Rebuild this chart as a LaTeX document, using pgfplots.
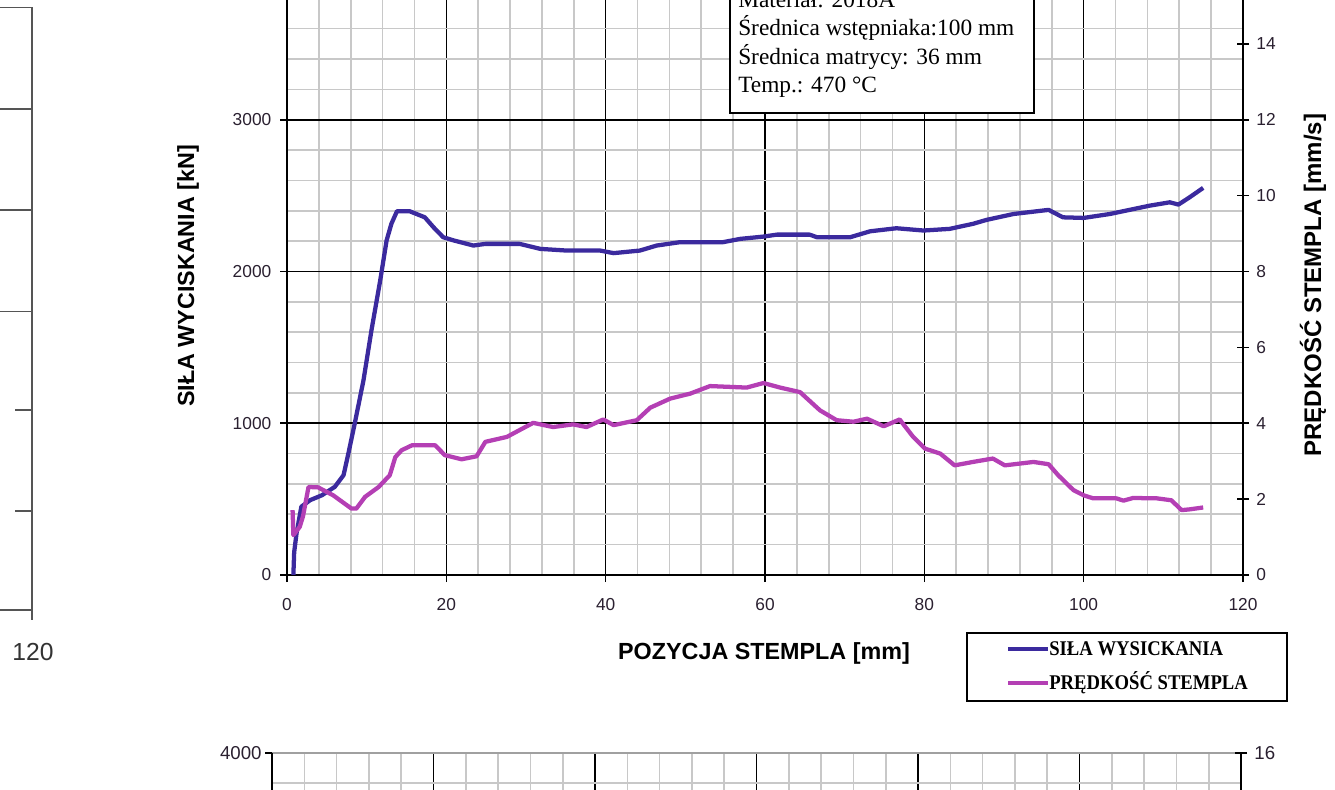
\documentclass[border=0pt]{standalone}
\usepackage{fontspec}
\setmainfont{Liberation Serif}
\newfontfamily\arial{Liberation Sans}
\usepackage{pgfplots}
\pgfplotsset{compat=1.18}

\definecolor{forceblue}{HTML}{3B2A9E}
\definecolor{speedmag}{HTML}{B43FB4}
\definecolor{gridgray}{HTML}{C8C8C8}
\definecolor{framegray}{HTML}{555555}
\definecolor{ticktext}{HTML}{2A2030}

\pgfplotsset{
  excelgrid/.style={
    scale only axis,
    xmin=0, xmax=120,
    xtick={0,20,...,120},
    minor x tick num=4, minor y tick num=4,
    grid=both,
    major grid style={black, line width=1.2pt},
    minor grid style={gridgray, line width=1.2pt},
    axis line style={black, line width=1.4pt},
    tick style={black, line width=1.2pt},
    major tick length=5.25pt, minor tick length=0pt,
    ticklabel style={font=\arial\fontsize{13}{13}\selectfont, text=ticktext},
    xticklabel style={yshift=-9pt},
    /pgf/number format/assume math mode=true,
    /pgf/number format/set thousands separator={},
  },
  rightscale/.style={
    scale only axis,
    xmin=0, xmax=120, ymin=0, ymax=16,
    ytick={0,2,...,16},
    axis x line=none, axis y line*=right,
    axis line style={black, line width=1.4pt},
    tick style={black, line width=1.2pt},
    tick align=center, major tick length=9pt,
    ticklabel style={font=\arial\fontsize{13}{13}\selectfont, text=ticktext},
    yticklabel style={xshift=2pt},
    /pgf/number format/assume math mode=true,
  },
}

\begin{document}
\begin{tikzpicture}
\useasboundingbox (0,0) rectangle (1001.25pt,591.75pt);
\clip (0,0) rectangle (1001.25pt,591.75pt);

% edge of the neighbouring chart on the left
\begin{scope}[x=0.75pt,y=0.75pt]
\begin{scope}[draw=framegray, line width=1.1pt]
  \draw (0,781.5) -- (32,781.5) -- (32,169);
  \draw (0,680) -- (32,680);
  \draw (0,579) -- (32,579);
  \draw (0,477.5) -- (32,477.5);
  \draw (15,379) -- (32,379);
  \draw (15,278) -- (32,278);
  \draw (0,179) -- (32,179);
\end{scope}
\node[font=\arial\fontsize{18.5}{18.5}\selectfont, text=black!80] at (33,137) {120};
\end{scope}

% force axis (left scale) with the grid
\begin{axis}[excelgrid,
  at={(215.25pt,160.5pt)}, anchor=south west,
  width=717pt, height=455.25pt,
  ymin=0, ymax=4000,
  ytick={0,1000,...,4000},
  yticklabels={0,1000,2000,3000,},
  yticklabel style={xshift=-3pt},
  axis y line*=left, axis x line*=bottom,
  tick align=outside,
]
\addplot[forceblue, line width=3.2pt, line join=round] coordinates {
(0.8,0) (0.9,150) (1.2,276) (1.8,450) (2.9,493) (4.4,526) (6.0,581)
(7.1,658) (7.7,800) (8.5,998) (9.6,1283) (10.6,1612) (11.7,1941)
(12.5,2204) (13.1,2314) (13.8,2397) (15.4,2397) (17.3,2357) (18.4,2291)
(19.6,2226) (20.9,2205) (22.0,2190) (23.4,2171) (24.9,2182) (29.2,2182)
(31.8,2149) (35.1,2138) (39.3,2138) (41.0,2121) (44.3,2138) (46.4,2171)
(49.3,2193) (54.7,2193) (56.9,2215) (59.8,2230) (61.5,2243) (65.6,2243)
(66.5,2226) (70.7,2226) (73.2,2265) (76.5,2285) (79.9,2270) (83.2,2281)
(84.5,2296) (86.1,2314) (87.8,2340) (91.2,2379) (95.6,2406) (97.4,2357)
(100.0,2353) (103.3,2379) (108.3,2434) (110.8,2456) (111.9,2441)
(113.3,2489) (115.0,2551)
};
\end{axis}

% ram speed axis (right scale)
\begin{axis}[rightscale,
  at={(215.25pt,160.5pt)}, anchor=south west,
  width=717pt, height=455.25pt,
  yticklabels={0,2,4,6,8,10,12,14,},
]
\addplot[speedmag, line width=3.2pt, line join=round] coordinates {
(0.7,1.71) (0.8,1.05) (1.6,1.27) (2.0,1.54) (2.7,2.32) (3.9,2.31)
(5.8,2.10) (8.1,1.75) (8.7,1.75) (9.8,2.06) (11.5,2.32) (12.9,2.63)
(13.6,3.11) (14.4,3.29) (15.7,3.42) (18.6,3.42) (19.8,3.16) (21.9,3.05)
(23.8,3.13) (24.9,3.51) (27.6,3.64) (29.2,3.82) (30.9,4.01) (33.4,3.90)
(35.9,3.97) (37.6,3.90) (39.7,4.10) (41.0,3.95) (43.9,4.08) (45.6,4.41)
(48.1,4.65) (50.6,4.78) (53.1,4.98) (57.7,4.94) (59.8,5.06) (61.9,4.94)
(64.4,4.82) (66.9,4.34) (69.0,4.08) (71.1,4.04) (72.8,4.12) (74.9,3.92)
(76.9,4.10) (78.6,3.64) (80.1,3.33) (82.0,3.20) (83.8,2.89) (86.1,2.98)
(88.6,3.07) (90.1,2.89) (93.7,2.98) (95.6,2.92) (96.8,2.63) (98.7,2.24)
(100.0,2.10) (101.2,2.02) (104.1,2.02) (105.0,1.96) (106.2,2.03)
(109.2,2.02) (111.0,1.97) (112.3,1.71) (113.3,1.73) (115.0,1.78)
};
\end{axis}

% top of the next chart below
\begin{axis}[excelgrid,
  at={(204pt,27pt)}, anchor=north west,
  width=726.75pt, height=450pt,
  ymin=0, ymax=4000,
  ytick={0,1000,...,4000},
  yticklabels={,,,,4000},
  yticklabel style={xshift=1pt},
  xticklabels={},
  axis y line*=left, axis x line*=bottom,
  major y grid style={gridgray!80!black, line width=1.2pt},
  tick align=outside,
  ticklabel style={font=\arial\fontsize{14}{14}\selectfont, text=ticktext},
]
\addplot[draw=none] coordinates {(0,0) (120,4000)};
\end{axis}
\begin{axis}[rightscale,
  at={(204pt,27pt)}, anchor=north west,
  width=726.75pt, height=450pt,
  yticklabels={,,,,,,,,16},
  ticklabel style={font=\arial\fontsize{14}{14}\selectfont, text=ticktext},
]
\addplot[draw=none] coordinates {(0,0) (120,16)};
\end{axis}

\begin{scope}[x=0.75pt,y=0.75pt]
% axis titles
\node[font=\arial\bfseries\fontsize{17.5}{17.5}\selectfont, rotate=90] at (188,513) {SIŁA WYCISKANIA [kN]};
\node[font=\arial\bfseries\fontsize{18}{18}\selectfont, rotate=90] at (1313,504) {PRĘDKOŚĆ STEMPLA [mm/s]};
\node[font=\arial\bfseries\fontsize{17.5}{17.5}\selectfont] at (764,136) {POZYCJA STEMPLA [mm]};

% process parameters
\draw[fill=white, line width=1.2pt] (730,676) rectangle (1034,800);
\begin{scope}[every node/.style={anchor=base west, inner sep=0pt, font=\fontsize{17.5}{17.5}\selectfont}]
  \node at (738,781.5) {Materiał: 2018A};
  \node at (738,753) {Średnica wstępniaka:100 mm};
  \node at (738,724) {Średnica matrycy: 36 mm};
  \node at (738,696) {Temp.: 470 °C};
\end{scope}

% legend
\draw[fill=white, line width=1.2pt] (967,88) rectangle (1287,156);
\draw[forceblue, line width=3.2pt] (1008,140) -- (1048,140);
\draw[speedmag, line width=3.2pt] (1008,106) -- (1048,106);
\node[anchor=west, inner sep=0pt, font=\bfseries\fontsize{14}{14}\selectfont] at (1049,140) {\scalebox{1}[1.12]{SIŁA WYSICKANIA}};
\node[anchor=west, inner sep=0pt, font=\bfseries\fontsize{14}{14}\selectfont] at (1049,106) {\scalebox{1}[1.12]{PRĘDKOŚĆ STEMPLA}};
\end{scope}
\end{tikzpicture}
\end{document}
